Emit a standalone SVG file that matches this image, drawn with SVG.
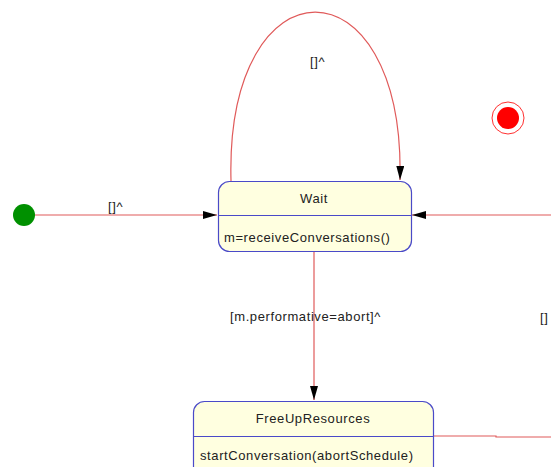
<svg xmlns="http://www.w3.org/2000/svg" width="551" height="467" viewBox="0 0 551 467">
<defs>
<style>
.st{fill:#ffffe0;stroke:#4a4ac8;stroke-width:1.2}
.dv{stroke:#4a4ac8;stroke-width:1.2}
.tr{fill:none;stroke:#e05a5a;stroke-width:1.2}
text{font-family:"Liberation Sans",Arial,sans-serif;font-size:13px;letter-spacing:0.6px;fill:#222}
</style>
<marker id="ah" viewBox="0 0 14 8" refX="14" refY="4" markerWidth="14" markerHeight="8" markerUnits="userSpaceOnUse" orient="auto">
<path d="M0,0 L14,4 L0,8 Z" fill="#000"/>
</marker>
</defs>
<g id="connectors">
<line class="tr" x1="35" y1="215" x2="217" y2="215" marker-end="url(#ah)"/>
<text x="108" y="211">[]^</text>
<path class="tr" d="M231,181 C225,-44 405,-44 400,180" marker-end="url(#ah)"/>
<text x="310" y="66">[]^</text>
<line class="tr" x1="551" y1="215" x2="412" y2="215" marker-end="url(#ah)"/>
<line class="tr" x1="314" y1="251" x2="314" y2="400" marker-end="url(#ah)"/>
<text x="230" y="321">[m.performative=abort]^</text>
<polyline class="tr" points="433,436 496,436 496,437 551,437"/>
<text x="540" y="322">[]</text>
</g>
<g id="initial">
<circle cx="24" cy="215" r="11" fill="#009000"/>
</g>
<g id="final">
<circle cx="508" cy="118" r="16" fill="#fff" stroke="#ff3030" stroke-width="1"/>
<circle cx="508" cy="118" r="11" fill="#ff0000"/>
</g>
<g id="wait">
<rect class="st" x="218.5" y="181.5" width="193" height="70" rx="11"/>
<line class="dv" x1="218.5" y1="215.5" x2="411.5" y2="215.5"/>
<text x="314" y="203" text-anchor="middle">Wait</text>
<text x="224" y="242">m=receiveConversations()</text>
</g>
<g id="freeup">
<rect class="st" x="193.5" y="401.5" width="240" height="80" rx="11"/>
<line class="dv" x1="193.5" y1="436.5" x2="433.5" y2="436.5"/>
<text x="313" y="423" text-anchor="middle">FreeUpResources</text>
<text x="200" y="460">startConversation(abortSchedule)</text>
</g>
</svg>
